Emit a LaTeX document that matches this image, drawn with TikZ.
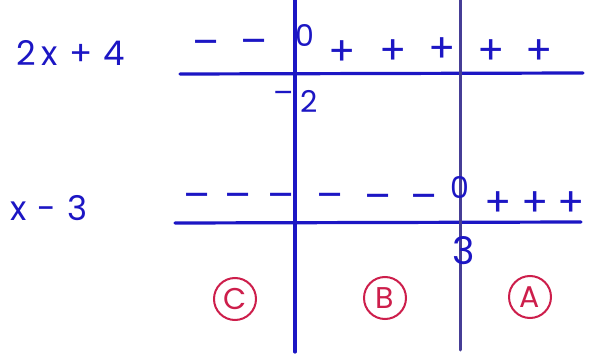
\documentclass[tikz,border=0pt]{standalone}
\usepackage{fontspec}
\setmainfont{Poppins}
\definecolor{ink}{RGB}{28,22,196}
\definecolor{pencil}{RGB}{70,62,150}
\definecolor{redink}{RGB}{205,30,75}
\tikzset{
  grid/.style={draw=ink, line width=3.2pt, line cap=round},
  grid2/.style={draw=pencil, line width=3pt, line cap=round},
  sgn/.style={text=ink, font=\fontsize{40}{40}\selectfont, inner sep=0pt},
  lbl/.style={text=ink, font=\fontsize{34}{34}\selectfont, inner sep=0pt},
  small/.style={text=ink, font=\fontsize{30}{30}\selectfont, inner sep=0pt},
  region/.style={circle, draw=redink, line width=2pt, text=redink, minimum size=42pt, inner sep=0pt, font=\fontsize{30}{30}\selectfont}
}
\begin{document}
\begin{tikzpicture}[x=1pt,y=-1pt]
\useasboundingbox[fill=white] (0,0) rectangle (589,358);
% lines
\coordinate (v1t) at (295,0); \coordinate (v1b) at (295,352);
\coordinate (v2t) at (460,0); \coordinate (v2b) at (460,350);
\coordinate (h1l) at (180,74); \coordinate (h1r) at (583,73);
\coordinate (h2l) at (175,223); \coordinate (h2r) at (581,222);
\draw[grid] (h1l) -- (h1r);
\draw[grid] (h2l) -- (h2r);
\draw[grid] (v1t) -- (v1b);
\draw[grid2] (v2t) -- (v2b);
% labels
\node[lbl] (f1) at (71,53) {2\,x\,\,+\,\,4};
\node[lbl] (f2) at (49,208) {x\,\,-\,\,3};
% row 1
\node[sgn] (a1) at (206,48) {–};
\node[sgn] (a2) at (254,47) {–};
\node[small] (z1) at (305,35) {0};
\node[sgn] (a3) at (342,53) {+};
\node[sgn] (a4) at (393,52) {+};
\node[sgn] (a5) at (442,50) {+};
\node[sgn] (a6) at (491,52) {+};
\node[sgn] (a7) at (539,52) {+};
\node[small] (m) at (284,97) {–};
\node[small] (two) at (309,101) {2};
% row 2
\node[sgn] (b1) at (197,201) {–};
\node[sgn] (b2) at (238,201) {–};
\node[sgn] (b3) at (281,201) {–};
\node[sgn] (b4) at (330,201) {–};
\node[sgn] (b5) at (378,202) {–};
\node[sgn] (b6) at (424,202) {–};
\node[small] (z2) at (460,187) {0};
\node[sgn] (b7) at (498,204) {+};
\node[sgn] (b8) at (535,204) {+};
\node[sgn] (b9) at (571,204) {+};
\node[small, font=\fontsize{38}{38}\selectfont] (t3) at (464,251) {3};
% regions
\node[region] (C) at (235,299) {C};
\node[region] (B) at (385,298) {B};
\node[region] (A) at (530,297) {A};
\end{tikzpicture}
\end{document}
